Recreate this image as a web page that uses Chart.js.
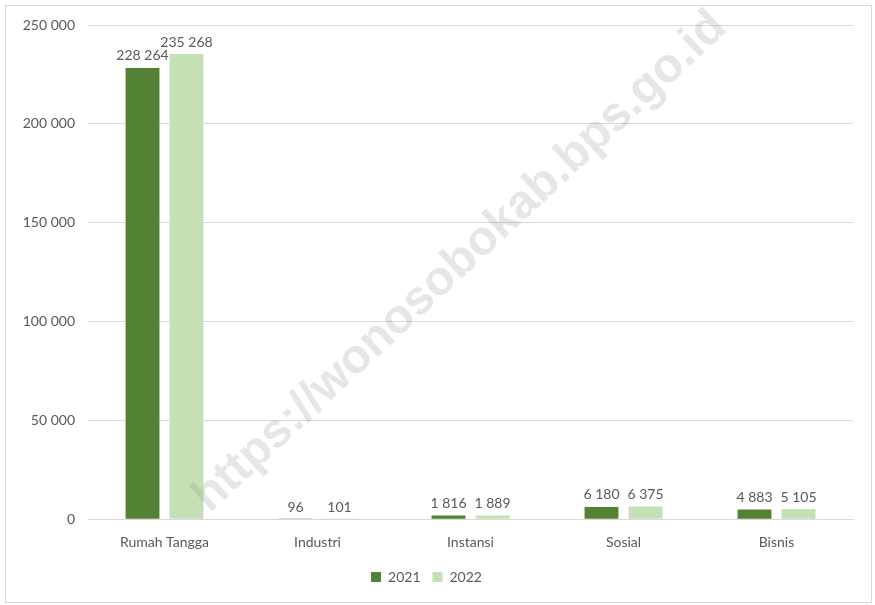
<!DOCTYPE html>
<html>
<head>
<meta charset="utf-8">
<script src="https://cdn.jsdelivr.net/npm/chart.js@4.4.1/dist/chart.umd.min.js"></script>
<style>
  html, body { margin: 0; padding: 0; background: #fff; }
  #wrap { position: relative; width: 875px; height: 605px; }
  #frame {
    position: absolute; left: 5px; top: 5px; width: 867px; height: 598px;
    box-sizing: border-box; border: 1px solid #d9d9d9; pointer-events: none;
  }
</style>
</head>
<body>
<div id="wrap">
  <canvas id="myBarChart" width="875" height="605"></canvas>
  <div id="frame"></div>
</div>
<script>
// categories and values
var categories = ["Rumah Tangga", "Industri", "Instansi", "Sosial", "Bisnis"];
var values2021 = [228264, 96, 1816, 6180, 4883];
var values2022 = [235268, 101, 1889, 6375, 5105];
var yTicks = [0, 50000, 100000, 150000, 200000, 250000];

var textColor = "#595959";
var fontFamily = "Lato, 'Open Sans', sans-serif";

// 228264 -> "228 264"
function fmt(v) {
  return String(v).replace(/\B(?=(\d{3})+(?!\d))/g, " ");
}

// value labels above the bars
var barLabels = {
  id: "barLabels",
  afterDatasetsDraw: function (chart) {
    var c = chart.ctx;
    c.save();
    c.font = "14px " + fontFamily;
    c.fillStyle = textColor;
    c.textAlign = "center";
    c.textBaseline = "bottom";
    chart.data.datasets.forEach(function (ds, i) {
      chart.getDatasetMeta(i).data.forEach(function (bar, j) {
        c.fillText(fmt(ds.data[j]), bar.x, bar.y - 5);
      });
    });
    c.restore();
  },
};

// source watermark
var watermark = {
  id: "watermark",
  afterDatasetsDraw: function (chart) {
    var c = chart.ctx;
    c.save();
    c.translate(460, 262);
    c.rotate(-43 * Math.PI / 180);
    c.font = "bold 48px 'Liberation Sans', Arial, sans-serif";
    c.fillStyle = "rgba(140, 140, 140, 0.22)";
    c.textAlign = "center";
    c.textBaseline = "middle";
    c.fillText("https://wonosobokab.bps.go.id", 0, 0);
    c.restore();
  },
};

var ctx = document.getElementById("myBarChart").getContext("2d");

var myBarChart = new Chart(ctx, {
  type: "bar",
  data: {
    labels: categories,
    datasets: [
      {
        label: "2021",
        backgroundColor: "#548235",
        data: values2021,
      },
      {
        label: "2022",
        backgroundColor: "#C5E0B4",
        data: values2022,
      },
    ],
  },
  options: {
    responsive: false,
    animation: false,
    categoryPercentage: 0.575,
    barPercentage: 0.77,
    layout: {
      padding: { left: 0, right: 22, top: 25, bottom: 11 },
    },
    scales: {
      x: {
        grid: { display: false },
        border: { color: "#d9d9d9" },
        ticks: {
          color: textColor,
          font: { family: fontFamily, size: 14 },
          padding: 7,
        },
      },
      y: {
        min: 0,
        max: 250000,
        afterBuildTicks: function (scale) {
          scale.ticks = yTicks.map(function (v) { return { value: v }; });
        },
        afterFit: function (scale) {
          scale.width = 88;
        },
        grid: { color: "#d9d9d9", drawTicks: false },
        border: { display: false },
        ticks: {
          color: textColor,
          font: { family: fontFamily, size: 14 },
          padding: 13,
          callback: function (v) { return fmt(v); },
        },
      },
    },
    plugins: {
      legend: {
        position: "bottom",
        labels: {
          boxWidth: 10,
          boxHeight: 10,
          padding: 12,
          color: textColor,
          font: { family: fontFamily, size: 14 },
        },
      },
      tooltip: { enabled: false },
    },
  },
  plugins: [barLabels, watermark],
});
</script>
</body>
</html>
